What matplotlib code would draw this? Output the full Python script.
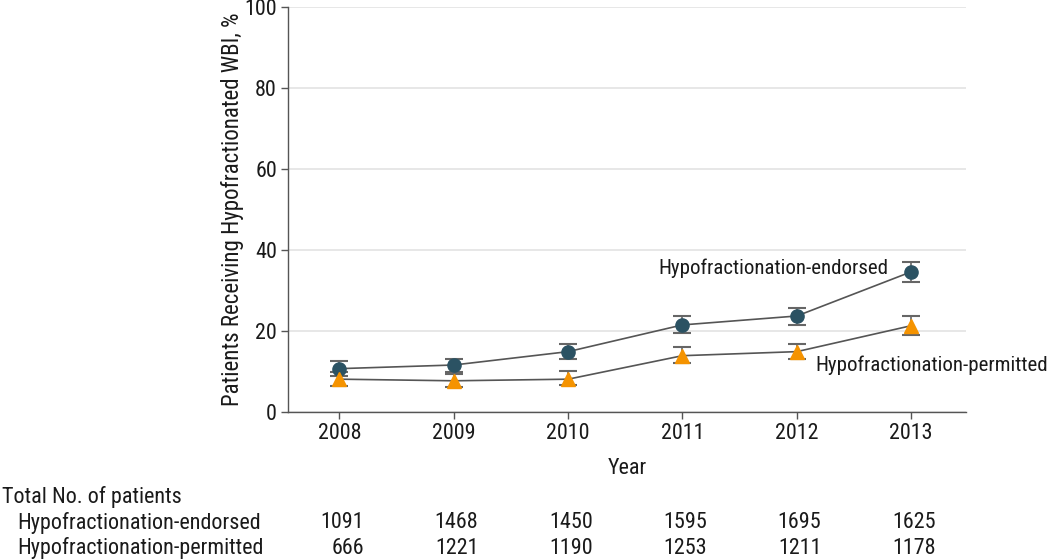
import matplotlib
matplotlib.use("Agg")
import matplotlib.pyplot as plt
from matplotlib import font_manager

entries = font_manager.fontManager.ttflist
names = {f.name for f in entries}
FONT = None
STRETCH = "normal"
for cand in ["Roboto Condensed", "Liberation Sans Narrow", "Open Sans Condensed", "Noto Sans Condensed"]:
    if cand in names:
        FONT = cand
        break
if FONT is None:
    for f in entries:
        if f.name in ("DejaVu Sans", "Noto Sans", "Open Sans", "Roboto") and str(f.stretch) in ("condensed", "semi-condensed", "75", "87.5"):
            FONT = f.name
            STRETCH = "condensed"
            break
if FONT is None:
    FONT = "Roboto" if "Roboto" in names else "DejaVu Sans"
plt.rcParams["font.family"] = [FONT, "DejaVu Sans"]
plt.rcParams["font.stretch"] = STRETCH

years = [2008, 2009, 2010, 2011, 2012, 2013]
endorsed = [10.7, 11.6, 14.9, 21.5, 23.7, 34.6]
endorsed_lo = [9.9, 9.9, 13.0, 19.6, 21.6, 32.2]
endorsed_hi = [12.5, 13.2, 16.7, 23.6, 25.6, 37.0]
permitted = [8.1, 7.7, 8.1, 13.9, 14.9, 21.3]
permitted_lo = [6.5, 6.2, 6.6, 12.2, 13.1, 19.0]
permitted_hi = [9.0, 9.4, 10.1, 16.0, 16.9, 23.6]
n_endorsed = [1091, 1468, 1450, 1595, 1695, 1625]
n_permitted = [666, 1221, 1190, 1253, 1211, 1178]

C_END = "#2b5263"
C_PER = "#f59300"
LINE = "#555555"
TXT = "#1a1a1a"

fig = plt.figure(figsize=(10.5, 5.59), dpi=100)

# pick a font size so the label width matches the reference (~230 px)
r = fig.canvas.get_renderer()
probe = fig.text(0, 0, "Hypofractionation-endorsed", fontsize=15)
w = probe.get_window_extent(renderer=r).width
probe.remove()
FS = min(16.5, 15 * 230.0 / w)
FS_T = FS * 1.06
FS_Y = FS * 1.1

ax = fig.add_axes([0.2743, 0.263, 0.6457, 0.7245])

def err(v, lo, hi):
    return [[a - b for a, b in zip(v, lo)], [b - a for a, b in zip(v, hi)]]

ax.plot(years, endorsed, color=LINE, lw=1.2, zorder=2)
ax.plot(years, permitted, color=LINE, lw=1.2, zorder=2)
ax.errorbar(years, endorsed, yerr=err(endorsed, endorsed_lo, endorsed_hi), fmt="none",
            ecolor="#666666", elinewidth=1.2, capsize=6.5, capthick=1.5, zorder=3)
ax.errorbar(years, permitted, yerr=err(permitted, permitted_lo, permitted_hi), fmt="none",
            ecolor="#666666", elinewidth=1.2, capsize=6.5, capthick=1.5, zorder=3)
ax.plot(years, endorsed, "o", color=C_END, ms=9.5, mec=C_END, zorder=4)
ax.plot(years, permitted, "^", color=C_PER, ms=10.5, mec=C_PER, zorder=4)

ax.set_xlim(2007.55, 2013.48)
ax.set_ylim(0, 100)
ax.set_xticks(years)
ax.set_yticks([0, 20, 40, 60, 80, 100])
ax.yaxis.grid(True, color="#e3e3e3", lw=1.2)
ax.set_axisbelow(True)
for s in ["top", "right"]:
    ax.spines[s].set_visible(False)
for s in ["left", "bottom"]:
    ax.spines[s].set_color("#555555")
    ax.spines[s].set_linewidth(1.0)
ax.tick_params(axis="both", colors="#555555", labelcolor=TXT, labelsize=FS_T,
               length=5, width=1.0, pad=3)
ax.set_xlabel("Year", fontsize=FS_T, color=TXT, labelpad=10)
ax.set_ylabel("Patients Receiving Hypofractionated WBI, %", fontsize=FS_Y, color=TXT, labelpad=0)

ax.text(2012.8, 35.5, "Hypofractionation-endorsed", ha="right", va="center", fontsize=FS, color=TXT)
ax.text(2012.16, 11.6, "Hypofractionation-permitted", ha="left", va="center", fontsize=FS, color=TXT)

trans = ax.get_xaxis_transform()
fig.text(2 / 1050, 1 - 497 / 559, "Total No. of patients", ha="left", va="center", fontsize=FS_T, color=TXT)
fig.text(17 / 1050, 1 - 523 / 559, "Hypofractionation-endorsed", ha="left", va="center", fontsize=FS_T, color=TXT)
fig.text(17 / 1050, 1 - 548 / 559, "Hypofractionation-permitted", ha="left", va="center", fontsize=FS_T, color=TXT)
y1 = (1 - 523 / 559 - 0.263) / 0.7245
y2 = (1 - 548 / 559 - 0.263) / 0.7245
for x, a, b in zip(years, n_endorsed, n_permitted):
    ax.text(x + 0.215, y1, str(a), transform=trans, ha="right", va="center", fontsize=FS_T,
            color=TXT, clip_on=False)
    ax.text(x + 0.215, y2, str(b), transform=trans, ha="right", va="center", fontsize=FS_T,
            color=TXT, clip_on=False)

fig.savefig("out.png", dpi=100)
